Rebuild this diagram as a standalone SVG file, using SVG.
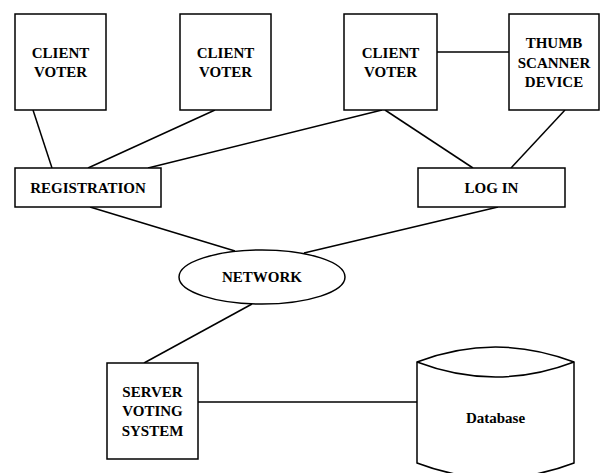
<svg xmlns="http://www.w3.org/2000/svg" width="601" height="473" viewBox="0 0 601 473">
<style>
.n{fill:#fff;stroke:#000;stroke-width:1.5}
.c line{stroke:#000;stroke-width:1.5}
text{font-family:"Liberation Serif","Times New Roman",serif;font-weight:bold;font-size:15px;text-anchor:middle;fill:#000}
</style>
<rect width="601" height="473" fill="#fff"/>
<g class="c" id="connectors">
<line x1="33" y1="110" x2="52" y2="168"/>
<line x1="215" y1="110" x2="88" y2="168"/>
<line x1="382" y1="110" x2="148" y2="168"/>
<line x1="437" y1="52" x2="509" y2="52"/>
<line x1="385" y1="110" x2="473" y2="168"/>
<line x1="565" y1="110" x2="511" y2="168"/>
<line x1="90" y1="207" x2="235" y2="251"/>
<line x1="498" y1="207" x2="304" y2="253"/>
<line x1="252" y1="304" x2="144" y2="363"/>
<line x1="198" y1="402" x2="417" y2="402"/>
</g>
<g id="cv1"><rect class="n" x="15" y="14" width="91" height="96"/><text x="60.5" y="58">CLIENT</text><text x="60.5" y="77">VOTER</text></g>
<g id="cv2"><rect class="n" x="180" y="14" width="91" height="96"/><text x="225.5" y="58">CLIENT</text><text x="225.5" y="77">VOTER</text></g>
<g id="cv3"><rect class="n" x="344" y="14" width="93" height="96"/><text x="390.5" y="58">CLIENT</text><text x="390.5" y="77">VOTER</text></g>
<g id="thumb"><rect class="n" x="509" y="14" width="90" height="96"/><text x="554" y="48">THUMB</text><text x="554" y="68">SCANNER</text><text x="554" y="87">DEVICE</text></g>
<g id="registration"><rect class="n" x="15" y="168" width="146" height="39"/><text x="88" y="193">REGISTRATION</text></g>
<g id="login"><rect class="n" x="418" y="168" width="147" height="39"/><text x="491.5" y="193">LOG IN</text></g>
<g id="network"><ellipse class="n" cx="262" cy="277" rx="83" ry="27"/><text x="262" y="282">NETWORK</text></g>
<g id="server"><rect class="n" x="107" y="363" width="91" height="96"/><text x="152.5" y="397">SERVER</text><text x="152.5" y="416">VOTING</text><text x="152.5" y="436">SYSTEM</text></g>
<g id="database"><path class="n" d="M417,362 Q495.5,332 574,362 L574,463 Q495.5,493 417,463 Z"/><path d="M417,362 Q495.5,392 574,362" fill="none" stroke="#000" stroke-width="1.5"/><text x="495.5" y="423">Database</text></g>
</svg>
